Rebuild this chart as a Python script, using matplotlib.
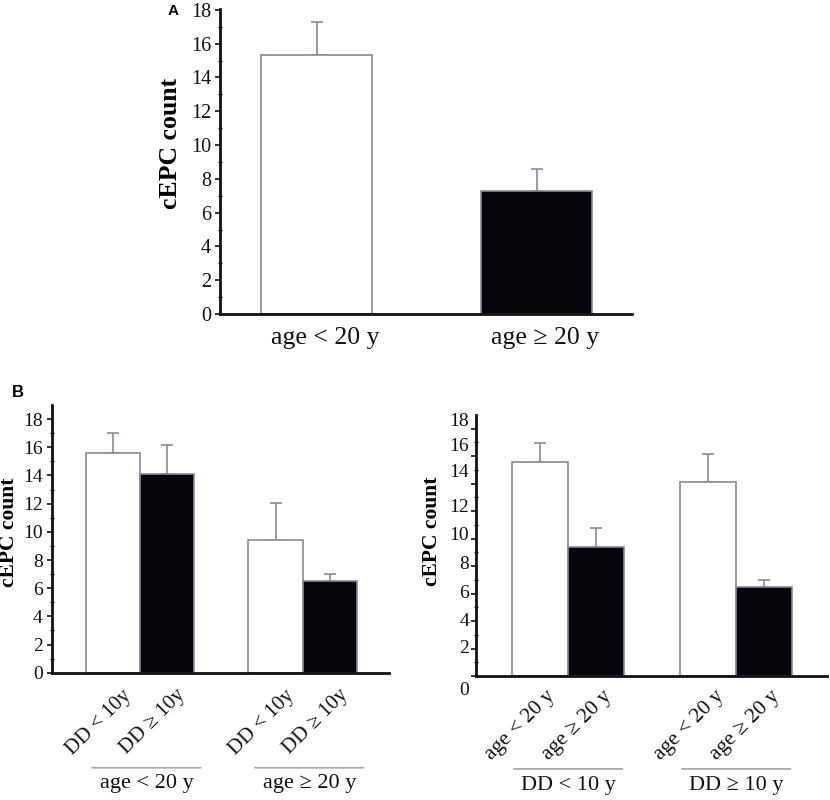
import numpy as np
import matplotlib
matplotlib.use("Agg")
import matplotlib.pyplot as plt

# ---------------- data ----------------
a_labels = ["age < 20 y", "age \u2265 20 y"]
a_means = [15.3, 7.3]
a_err = [2.0, 1.3]

bl_labels = ["DD < 10y", "DD \u2265 10y", "DD < 10y", "DD \u2265 10y"]
bl_groups = ["age < 20 y", "age \u2265 20 y"]
bl_means = [15.6, 14.1, 9.4, 6.5]
bl_err = [1.4, 2.05, 2.65, 0.5]

br_labels = ["age < 20 y", "age \u2265 20 y", "age < 20 y", "age \u2265 20 y"]
br_groups = ["DD < 10 y", "DD \u2265 10 y"]
br_means = [15.6, 9.4, 14.1, 6.5]
br_err = [1.35, 1.35, 2.05, 0.5]

yticks = list(range(0, 19, 2))
ytick_labels = [str(v) for v in yticks]
# label positions as drawn (slightly drifted) in the right-hand panel
br_ytick_label_pos = [-1.05, 2.0, 3.95, 6.0, 8.1, 10.25, 12.3, 14.8, 16.7, 18.5]

# ---------------- style ----------------
SERIF = ["Liberation Serif", "DejaVu Serif"]
plt.rcParams["font.family"] = SERIF
EDGE = "#8a8a9a"
BLACK = "#05050c"
colors = ["white", BLACK]

fig = plt.figure(figsize=(8.3, 8.0), dpi=100)


def style_axis(ax, ymax, tick_fs, minor_step=1):
    for s in ("top", "right"):
        ax.spines[s].set_visible(False)
    for s in ("left", "bottom"):
        ax.spines[s].set_linewidth(2.0)
        ax.spines[s].set_color("#111111")
    ax.set_ylim(0, ymax)
    ax.set_yticks(yticks, ytick_labels)
    ax.set_yticks(np.arange(0, ymax, minor_step), minor=True)
    ax.tick_params(axis="y", which="major", direction="out", length=3.5,
                   width=1.2, labelsize=tick_fs, pad=3, colors="#111111")
    ax.tick_params(axis="y", which="minor", direction="inout", length=3,
                   width=1.0, colors="#111111")
    ax.set_xticks([])
    ax.tick_params(axis="x", length=0)


def draw_bars(ax, pos, means, errs, width):
    cols = [colors[i % 2] for i in range(len(means))]
    ax.bar(pos, means, width=width, color=cols, edgecolor=EDGE,
           linewidth=1.2, zorder=2)
    ax.errorbar(pos, means, yerr=[np.zeros(len(errs)), errs], fmt="none",
                ecolor=EDGE, elinewidth=1.2, capsize=4.5, capthick=1.2,
                zorder=1)


# ---------------- panel A ----------------
axA = fig.add_axes([0.2651, 0.6075, 0.4964, 0.3813])
posA = np.arange(len(a_means))
draw_bars(axA, posA, a_means, a_err, 0.505)
style_axis(axA, 18.05, 14.5, minor_step=1)
axA.set_xlim(-0.439, 1.434)
axA.set_ylabel("cEPC count", fontsize=18.5, fontweight="bold")
axA.yaxis.set_label_coords(-0.092, 0.56)
for p, lab in zip(posA, a_labels):
    axA.annotate(lab, xy=(p, 0), xycoords=("data", "axes fraction"),
                 xytext=(6, -17), textcoords="offset points",
                 ha="center", va="center", fontsize=18.5, color="#111111")
fig.text(0.208, 0.986, "A", family=["Liberation Sans", "DejaVu Sans"],
         fontweight="bold", fontsize=11, ha="center", va="center")


def grouped_panel(ax, labels, groups, means, errs, xlim, lab_off,
                  line_half, grp_shift, line_y, text_y, ylab_xy,
                  rot_fs, grp_fs):
    pos = np.array([0, 1, 3, 4])
    draw_bars(ax, pos, means, errs, 1.0)
    style_axis(ax, 19, 14, minor_step=1)
    ax.set_xlim(*xlim)
    ax.set_ylabel("cEPC count", fontsize=15.5, fontweight="bold")
    ax.yaxis.set_label_coords(*ylab_xy)
    for p, lab in zip(pos, labels):
        ax.annotate(lab, xy=(p, 0), xycoords=("data", "axes fraction"),
                    xytext=lab_off, textcoords="offset points",
                    rotation=45, rotation_mode="anchor", ha="right",
                    va="top", fontsize=rot_fs, color="#111111")
    centers = [pos[0:2].mean(), pos[2:4].mean()]
    for c, g in zip(centers, groups):
        ax.annotate("", xy=(c + grp_shift - line_half, line_y),
                    xytext=(c + grp_shift + line_half, line_y),
                    xycoords=("data", "axes fraction"),
                    textcoords=("data", "axes fraction"),
                    arrowprops=dict(arrowstyle="-", color="#a8a8b0", lw=1.3,
                                    shrinkA=0, shrinkB=0),
                    annotation_clip=False)
        ax.text(c + grp_shift, text_y, g, transform=ax.get_xaxis_transform(),
                ha="center", va="center", fontsize=grp_fs, color="#111111")


# ---------------- panel B left ----------------
axBL = fig.add_axes([0.0623, 0.1591, 0.4064, 0.3346])
grouped_panel(axBL, bl_labels, bl_groups, bl_means, bl_err,
              (-1.125, 5.09), (6.4, -9.5), 1.0, 0.12, -0.355, -0.412,
              (-0.097, 0.526), 15, 16)
fig.text(0.021, 0.509, "B", family=["Liberation Sans", "DejaVu Sans"],
         fontweight="bold", fontsize=12, ha="center", va="center")

# ---------------- panel B right ----------------
axBR = fig.add_axes([0.5735, 0.155, 0.4229, 0.3263])
grouped_panel(axBR, br_labels, br_groups, br_means, br_err,
              (-1.143, 5.12), (4.2, -8.0), 0.97, 0.0, -0.356, -0.418,
              (-0.097, 0.553), 15.5, 16)
axBR.tick_params(axis="y", which="major", labelleft=False)
ytrans = axBR.get_yaxis_transform()
for yp, lab in zip(br_ytick_label_pos, ytick_labels):
    axBR.text(-0.02, yp, lab, transform=ytrans, ha="right", va="center",
              fontsize=14, color="#111111", clip_on=False)

fig.savefig("out.png", dpi=100, facecolor="white")
